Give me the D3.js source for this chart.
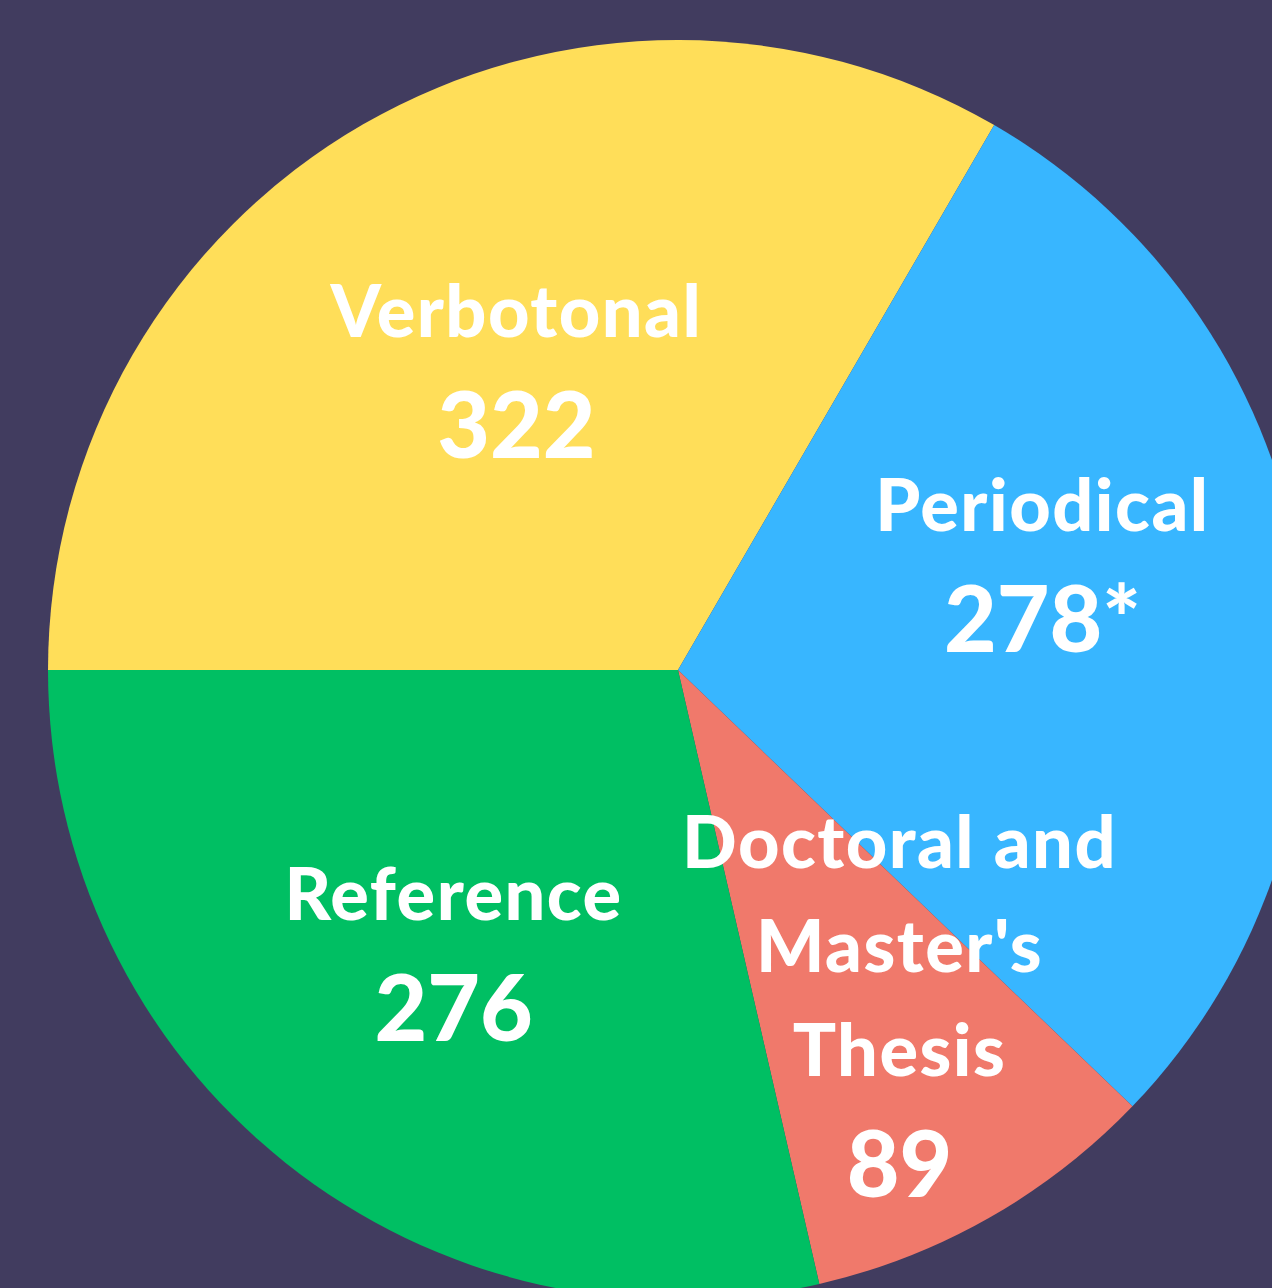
<!DOCTYPE html>
<html>
<head>
<meta charset="utf-8">
<script src="https://cdn.jsdelivr.net/npm/d3@7"></script>
<style>
  html, body { margin: 0; padding: 0; background: #413c5f; }
  svg { display: block; }
  .lbl { font-family: Lato, "Open Sans", sans-serif; font-weight: 900; fill: #ffffff; text-anchor: middle; }
  .name { letter-spacing: 1.5px; }
</style>
</head>
<body>
<svg id="chart"></svg>
<script>
"use strict";

// chart data
const categories = ["Verbotonal", "Periodical", "Doctoral and Master's Thesis", "Reference"];
const values     = [322, 278, 89, 276];
const valueLabels = ["322", "278*", "89", "276"];
const nameLines  = [["Verbotonal"], ["Periodical"], ["Doctoral and", "Master's", "Thesis"], ["Reference"]];
const colors     = ["#ffde59", "#38b6ff", "#f0796b", "#00bf63"];

const width = 1272, height = 1288;
const cx = 678, cy = 670, radius = 630, labelRadius = 370;

// small nudges for label blocks, keyed by category
const nudge = {
  "Verbotonal": [23, 22],
  "Periodical": [-2, -53],
  "Doctoral and Master's Thesis": [39, 15],
  "Reference": [6, -5]
};

const data = categories.map((c, i) => ({
  name: c, value: values[i], label: valueLabels[i], lines: nameLines[i], color: colors[i]
}));

const svg = d3.select("#chart")
    .attr("width", width)
    .attr("height", height);

svg.append("rect")
    .attr("width", width)
    .attr("height", height)
    .attr("fill", "#413c5f");

const g = svg.append("g")
    .attr("transform", `translate(${cx},${cy})`);

const pie = d3.pie()
    .sort(null)
    .value((d) => d.value)
    .startAngle(-Math.PI / 2)
    .endAngle(3 * Math.PI / 2);

const arc = d3.arc().innerRadius(0).outerRadius(radius);
const labelArc = d3.arc().innerRadius(labelRadius).outerRadius(labelRadius);

const arcs = pie(data);

// slices
g.selectAll(".slice")
    .data(arcs)
  .enter().append("path")
    .attr("class", "slice")
    .attr("d", arc)
    .attr("fill", (d) => d.data.color);

// labels
const nameSize = 72, valueSize = 91, lineStep = 104, valueStep = 121;

const labels = g.selectAll(".labelgroup")
    .data(arcs)
  .enter().append("g")
    .attr("class", "labelgroup")
    .attr("transform", (d) => {
      const c = labelArc.centroid(d);
      const n = nudge[d.data.name] || [0, 0];
      return `translate(${c[0] + n[0]},${c[1] + n[1]})`;
    });

labels.each(function(d) {
  const sel = d3.select(this);
  const nl = d.data.lines.length;
  // block spans from top of first name line to baseline of value
  const blockH = nameSize * 0.72 + (nl - 1) * lineStep + valueStep;
  const top = -blockH / 2;
  const firstBase = top + nameSize * 0.72;
  d.data.lines.forEach((t, i) => {
    sel.append("text")
      .attr("class", "lbl name")
      .attr("x", 0)
      .attr("y", firstBase + i * lineStep)
      .style("font-size", nameSize + "px")
      .text(t);
  });
  sel.append("text")
    .attr("class", "lbl")
    .attr("x", 0)
    .attr("y", firstBase + (nl - 1) * lineStep + valueStep)
    .style("font-size", valueSize + "px")
    .text(d.data.label);
});
</script>
</body>
</html>
